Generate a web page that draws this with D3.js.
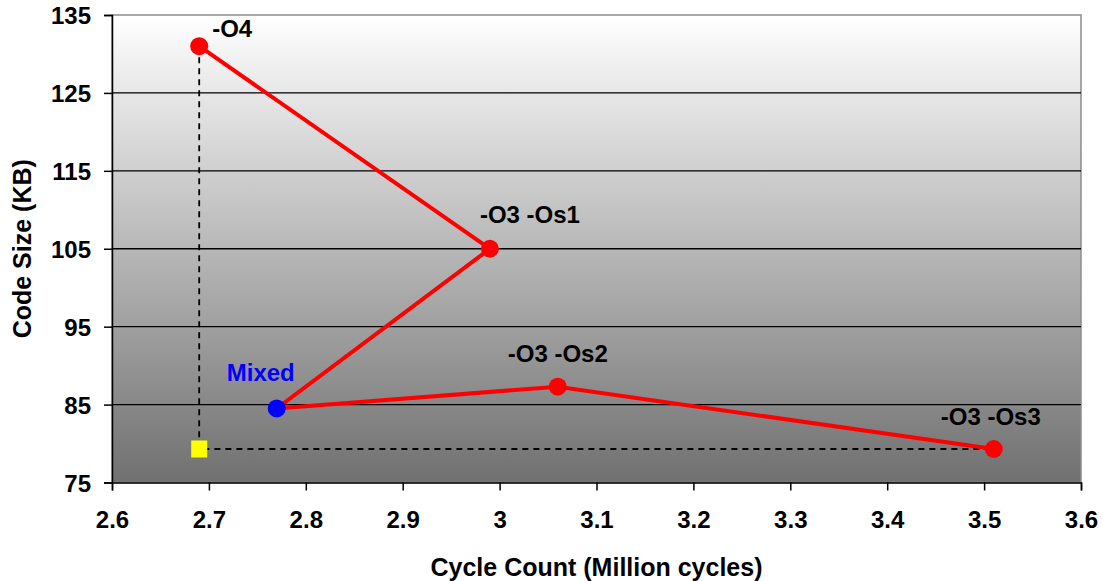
<!DOCTYPE html>
<html>
<head>
<meta charset="utf-8">
<script src="https://cdn.jsdelivr.net/npm/d3@7"></script>
<style>
  body { margin: 0; background: #fff; }
  text { font-family: 'Liberation Sans', Arial, sans-serif; font-weight: bold; }
</style>
</head>
<body>
<script>
let w = 1102;
let h = 581;

// data
let labels = ['-O4', '-O3 -Os1', 'Mixed', '-O3 -Os2', '-O3 -Os3'];
let cycles = [2.69, 2.99, 2.77, 3.06, 3.51];
let codeSize = [131.0, 105.0, 84.5, 87.3, 79.3];
let pointColors = ['red', 'red', 'blue', 'red', 'red'];
let xTicks = [2.6, 2.7, 2.8, 2.9, 3, 3.1, 3.2, 3.3, 3.4, 3.5, 3.6];
let yTicks = [75, 85, 95, 105, 115, 125, 135];
let ideal = [[2.69, 131.0], [2.69, 79.3], [3.51, 79.3]];

let dataset = labels.map((d, i) => ({ label: d, x: cycles[i], y: codeSize[i], color: pointColors[i] }));

let plotLeft = 112, plotRight = 1081, plotTop = 15, plotBottom = 482.5;
let fs = '24px';
let titleFs = '25px';

let xScale = d3.scaleLinear().domain([2.6, 3.6]).range([plotLeft, plotRight]);
let yScale = d3.scaleLinear().domain([75, 135]).range([plotBottom, plotTop]);

let svg = d3.select('body').append('svg')
  .attr('width', w)
  .attr('height', h);

let grad = svg.append('defs').append('linearGradient')
  .attr('id', 'bg')
  .attr('x1', 0).attr('y1', 0).attr('x2', 0).attr('y2', 1);
grad.append('stop').attr('offset', '0%').attr('stop-color', '#ffffff');
grad.append('stop').attr('offset', '100%').attr('stop-color', '#707070');

svg.append('rect')
  .attr('x', plotLeft).attr('y', plotTop)
  .attr('width', plotRight - plotLeft).attr('height', plotBottom - plotTop)
  .attr('fill', 'url(#bg)')
  .attr('stroke', '#8c8c8c')
  .attr('stroke-width', 1.5);

// gridlines
svg.selectAll('.grid')
  .data(yTicks.filter((d) => d > 75 && d < 135))
  .enter()
  .append('line')
  .attr('x1', plotLeft).attr('x2', plotRight)
  .attr('y1', (d) => yScale(d)).attr('y2', (d) => yScale(d))
  .attr('stroke', '#000')
  .attr('stroke-width', 1.3);

// axes
let xAxis = d3.axisBottom(xScale).tickValues(xTicks).tickSize(8).tickPadding(20)
  .tickFormat((d) => String(d));
let yAxis = d3.axisLeft(yScale).tickValues(yTicks).tickSize(8).tickPadding(13)
  .tickFormat((d) => String(d));

let gx = svg.append('g')
  .attr('transform', 'translate(0, ' + plotBottom + ')')
  .call(xAxis);
let gy = svg.append('g')
  .attr('transform', 'translate(' + plotLeft + ', 0)')
  .call(yAxis);

[gx, gy].forEach((g) => {
  g.select('.domain').attr('stroke', '#000').attr('stroke-width', 1.5);
  g.selectAll('.tick line').attr('stroke', '#000').attr('stroke-width', 1.5);
  g.selectAll('.tick text')
    .attr('fill', '#000')
    .attr('font-size', fs)
    .attr('font-family', "'Liberation Sans', Arial, sans-serif")
    .attr('font-weight', 'bold');
});
gy.selectAll('.tick text').attr('dy', '0.36em');

// dashed ideal lines
let line = d3.line()
  .x((d) => xScale(d[0]))
  .y((d) => yScale(d[1]));

svg.append('path')
  .datum(ideal)
  .attr('d', line)
  .attr('fill', 'none')
  .attr('stroke', '#000')
  .attr('stroke-width', 1.8)
  .attr('stroke-dasharray', '6,5');

svg.append('rect')
  .datum(ideal[1])
  .attr('x', (d) => xScale(d[0]) - 8)
  .attr('y', (d) => yScale(d[1]) - 8.5)
  .attr('width', 16).attr('height', 17)
  .attr('fill', '#ffff00');

// red path
svg.append('path')
  .datum(dataset)
  .attr('d', d3.line().x((d) => xScale(d.x)).y((d) => yScale(d.y)))
  .attr('fill', 'none')
  .attr('stroke', '#ff0000')
  .attr('stroke-width', 4);

svg.selectAll('circle')
  .data(dataset)
  .enter()
  .append('circle')
  .attr('cx', (d) => xScale(d.x))
  .attr('cy', (d) => yScale(d.y))
  .attr('r', 9)
  .attr('fill', (d) => d.color);

// label placement (Excel-style, manually nudged)
let nudge = {
  '-O4': [33, -18],
  '-O3 -Os1': [40, -34],
  'Mixed': [-16, -36],
  '-O3 -Os2': [0, -33],
  '-O3 -Os3': [-3, -33]
};

svg.selectAll('.lbl')
  .data(dataset)
  .enter()
  .append('text')
  .attr('class', 'lbl')
  .text((d) => d.label)
  .attr('x', (d) => xScale(d.x) + nudge[d.label][0])
  .attr('y', (d) => yScale(d.y) + nudge[d.label][1])
  .attr('dy', '0.36em')
  .attr('text-anchor', 'middle')
  .attr('font-size', fs)
  .attr('fill', (d) => d.color === 'blue' ? '#0000ff' : '#000');

svg.append('text')
  .text('Cycle Count (Million cycles)')
  .attr('x', (plotLeft + plotRight) / 2)
  .attr('y', 567)
  .attr('dy', '0.36em')
  .attr('text-anchor', 'middle')
  .attr('font-size', titleFs);

svg.append('text')
  .text('Code Size (KB)')
  .attr('transform', 'translate(22, ' + ((plotTop + plotBottom) / 2) + ') rotate(-90)')
  .attr('dy', '0.36em')
  .attr('text-anchor', 'middle')
  .attr('font-size', titleFs);
</script>
</body>
</html>
